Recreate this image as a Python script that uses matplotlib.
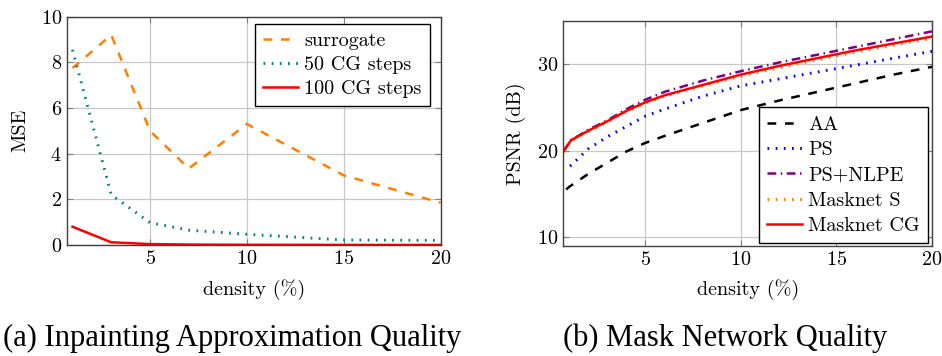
import matplotlib.pyplot as plt

plt.rcParams['font.family'] = ['cmr10', 'DejaVu Serif']
plt.rcParams['axes.formatter.use_mathtext'] = True
plt.rcParams['mathtext.fontset'] = 'cm'

# (a) inpainting approximation quality
density_a = [1, 3, 5, 7, 10, 15, 20]
mse_surrogate = [7.75, 9.2, 5.0, 3.35, 5.3, 3.05, 1.85]
mse_cg50 = [8.55, 2.2, 0.98, 0.65, 0.47, 0.22, 0.2]
mse_cg100 = [0.8, 0.12, 0.04, 0.02, 0.01, 0.005, 0.003]

# (b) mask network quality
density_b = [0.7, 1.1, 2, 3, 4, 5, 6, 8, 10, 12, 14, 16, 18, 20]
density_aa = [0.85, 1, 2, 3, 4, 5, 6, 8, 10, 12, 14, 16, 18, 20]
density_ps = [1.05, 1.2, 2, 3, 4, 5, 6, 8, 10, 12, 14, 16, 18, 20]
psnr_aa = [15.5, 15.8, 17.3, 18.6, 19.9, 20.9, 21.7, 23.2, 24.7, 25.8, 26.8, 27.8, 28.8, 29.7]
psnr_ps = [18.2, 18.5, 20.2, 21.6, 22.8, 24.0, 24.8, 26.3, 27.5, 28.3, 29.1, 29.9, 30.7, 31.5]
psnr_nlpe = [19.9, 21.2, 22.4, 23.5, 24.8, 25.9, 26.8, 28.1, 29.2, 30.2, 31.1, 32.0, 32.9, 33.8]
psnr_mask_s = [19.85, 21.1, 22.2, 23.3, 24.5, 25.5, 26.3, 27.5, 28.6, 29.6, 30.5, 31.4, 32.2, 33.0]
psnr_mask_cg = [19.9, 21.2, 22.3, 23.4, 24.6, 25.6, 26.4, 27.6, 28.8, 29.8, 30.7, 31.6, 32.4, 33.2]

FS = 14.5

fig = plt.figure(figsize=(9.42, 3.56), dpi=100)
ax1 = fig.add_axes([0.0708, 0.3118, 0.397, 0.6413])
ax2 = fig.add_axes([0.598, 0.3098, 0.3914, 0.6312])

lw = 1.8
dashed = (0, (3.5, 3.5))
dotted = (0, (0.6, 2.2))
ax1.plot(density_a, mse_surrogate, color='#FF8000', ls=dashed, lw=lw, label='surrogate')
ax1.plot(density_a, mse_cg50, color='#008080', ls=dotted, lw=lw + 0.3, label='50 CG steps')
ax1.plot(density_a, mse_cg100, color='#FF0000', lw=lw, label='100 CG steps')
ax1.set_xlim(0.7, 20)
ax1.set_ylim(0, 10)
ax1.set_xticks([5, 10, 15, 20])
ax1.set_yticks([0, 2, 4, 6, 8, 10])
ax1.set_xlabel('density (%)', fontsize=FS, labelpad=8)
ax1.set_ylabel('MSE', fontsize=FS, labelpad=8)

ax2.plot(density_aa, psnr_aa, color='black', ls=dashed, lw=lw, label='AA')
ax2.plot(density_ps, psnr_ps, color='#0000FF', ls=dotted, lw=lw + 0.3, label='PS')
ax2.plot(density_b, psnr_nlpe, color='#800080', ls=(0, (3.5, 1.8, 0.6, 1.8)), lw=lw, label='PS+NLPE')
ax2.plot(density_b, psnr_mask_s, color='#FF8000', ls=dotted, lw=lw + 0.3, label='Masknet S')
ax2.plot(density_b, psnr_mask_cg, color='#FF0000', lw=lw, label='Masknet CG')
ax2.set_xlim(0.7, 20)
ax2.set_ylim(9, 35)
ax2.set_xticks([5, 10, 15, 20])
ax2.set_yticks([10, 20, 30])
ax2.set_xlabel('density (%)', fontsize=FS, labelpad=8)
ax2.set_ylabel('PSNR (dB)', fontsize=FS, labelpad=8)

leg_kw = dict(fontsize=FS, frameon=True, fancybox=False, edgecolor='black',
              framealpha=1, handlelength=1.75, handletextpad=0.3,
              borderpad=0.4, borderaxespad=0)
ax1.legend(loc='upper right', bbox_to_anchor=(0.971, 0.968), labelspacing=0.3, **leg_kw)
ax2.legend(loc='lower right', bbox_to_anchor=(0.989, 0.012), labelspacing=0.36, **leg_kw)

for ax in (ax1, ax2):
    ax.grid(True, color='#c8c8c8', lw=0.9)
    ax.set_axisbelow(True)
    for s in ax.spines.values():
        s.set_color('#404040')
        s.set_linewidth(1.0)
    ax.tick_params(direction='in', length=4, color='#808080', labelsize=FS,
                   top=True, right=True)
    ax.get_legend().get_frame().set_linewidth(1.0)

fig.text(0.246, 0.028, '(a) Inpainting Approximation Quality', ha='center', va='baseline',
         fontsize=22, family='Liberation Serif')
fig.text(0.770, 0.028, '(b) Mask Network Quality', ha='center', va='baseline',
         fontsize=22, family='Liberation Serif')

fig.savefig('out.png', dpi=100)
